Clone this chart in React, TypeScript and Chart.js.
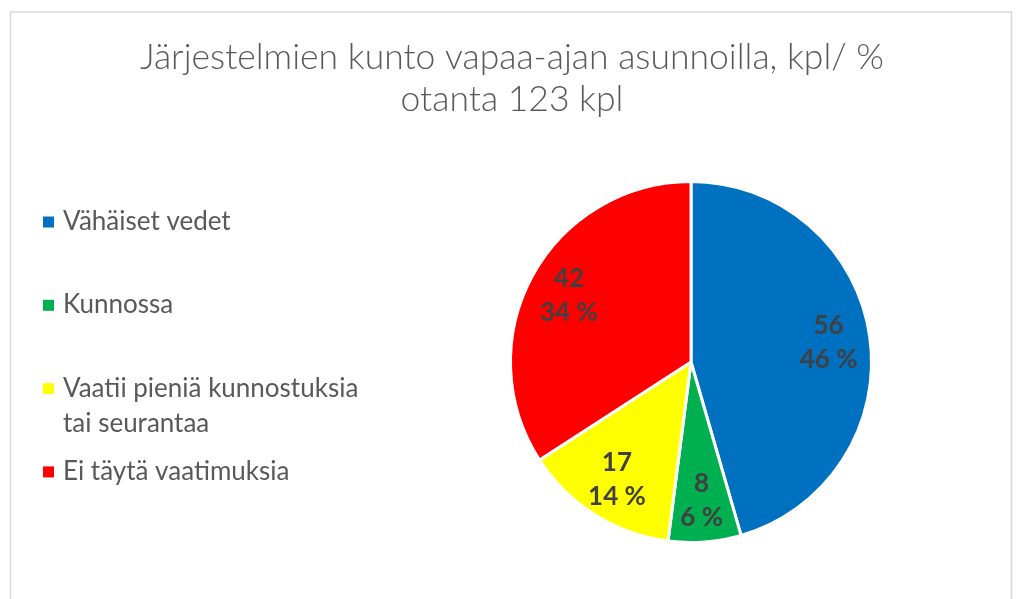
import { useEffect, useRef } from 'react';
import { Chart, registerables } from 'chart.js';

Chart.register(...registerables);

const TITLE_LINES = ['Järjestelmien kunto vapaa-ajan asunnoilla, kpl/ %', 'otanta 123 kpl'];
const CATEGORIES = [
  'Vähäiset vedet',
  'Kunnossa',
  'Vaatii pieniä kunnostuksia tai seurantaa',
  'Ei täytä vaatimuksia',
];
const LEGEND_LINES = [
  ['Vähäiset vedet'],
  ['Kunnossa'],
  ['Vaatii pieniä kunnostuksia', 'tai seurantaa'],
  ['Ei täytä vaatimuksia'],
];
const COUNTS = [56, 8, 17, 42];
const PERCENT_LABELS = ['46 %', '6 %', '14 %', '34 %'];
const COLORS = ['#0070C0', '#00B050', '#FFFF00', '#FF0000'];

const W = 1019;
const H = 599;

const decorPlugin = {
  id: 'decor',
  beforeDraw(chart: any) {
    const ctx = chart.ctx as CanvasRenderingContext2D;
    ctx.save();
    ctx.fillStyle = '#ffffff';
    ctx.fillRect(0, 0, W, H);
    ctx.strokeStyle = '#d9d9d9';
    ctx.lineWidth = 1.5;
    ctx.strokeRect(10.5, 12, 1001, H + 20);
    // title
    ctx.fillStyle = '#595959';
    ctx.textAlign = 'center';
    ctx.textBaseline = 'alphabetic';
    ctx.font = '300 35.5px Lato';
    TITLE_LINES.forEach((t, i) => ctx.fillText(t, 512, 69 + i * 42));
    ctx.restore();
  },
  afterDatasetsDraw(chart: any) {
    const ctx = chart.ctx as CanvasRenderingContext2D;
    const meta = chart.getDatasetMeta(0);
    ctx.save();
    ctx.fillStyle = '#404040';
    ctx.textAlign = 'center';
    ctx.textBaseline = 'middle';
    ctx.font = 'bold 26px Lato';
    meta.data.forEach((arc: any, i: number) => {
      const { x, y, startAngle, endAngle, outerRadius } = arc.getProps(
        ['x', 'y', 'startAngle', 'endAngle', 'outerRadius'],
        true
      );
      const mid = (startAngle + endAngle) / 2;
      const r = outerRadius * 0.77;
      const cx = x + Math.cos(mid) * r;
      const cy = y + Math.sin(mid) * r;
      ctx.fillText(String(COUNTS[i]), cx, cy - 17);
      ctx.fillText(PERCENT_LABELS[i], cx, cy + 17);
    });
    ctx.restore();
  },
  afterDraw(chart: any) {
    const ctx = chart.ctx as CanvasRenderingContext2D;
    const colors = chart.data.datasets[0].backgroundColor as string[];
    ctx.save();
    ctx.font = '26px Lato';
    ctx.textAlign = 'left';
    ctx.textBaseline = 'alphabetic';
    LEGEND_LINES.forEach((lines, i) => {
      const cy = 222 + i * 83.3;
      ctx.fillStyle = colors[i];
      ctx.fillRect(43, cy - 5.5, 11, 11);
      ctx.fillStyle = '#595959';
      lines.forEach((l, j) => ctx.fillText(l, 63, cy + 8 + j * 35));
    });
    ctx.restore();
  },
};

export default function App() {
  const ref = useRef<HTMLCanvasElement | null>(null);
  useEffect(() => {
    document.body.style.margin = '0';
    const canvas = ref.current!;
    const chart = new Chart(canvas, {
      type: 'pie',
      data: {
        labels: CATEGORIES,
        datasets: [
          {
            data: COUNTS,
            backgroundColor: COLORS,
            borderColor: '#ffffff',
            borderWidth: 3,
          },
        ],
      },
      options: {
        responsive: false,
        animation: false,
        layout: { padding: { left: 509, right: 146, top: 180, bottom: 55 } },
        plugins: {
          legend: { display: false },
          title: { display: false },
          tooltip: { enabled: false },
        },
      },
      plugins: [decorPlugin],
    });
    return () => chart.destroy();
  }, []);
  return (
    <div style={{ width: W, height: H }}>
      <canvas ref={ref} width={W} height={H} style={{ width: W, height: H, display: 'block' }} />
    </div>
  );
}
